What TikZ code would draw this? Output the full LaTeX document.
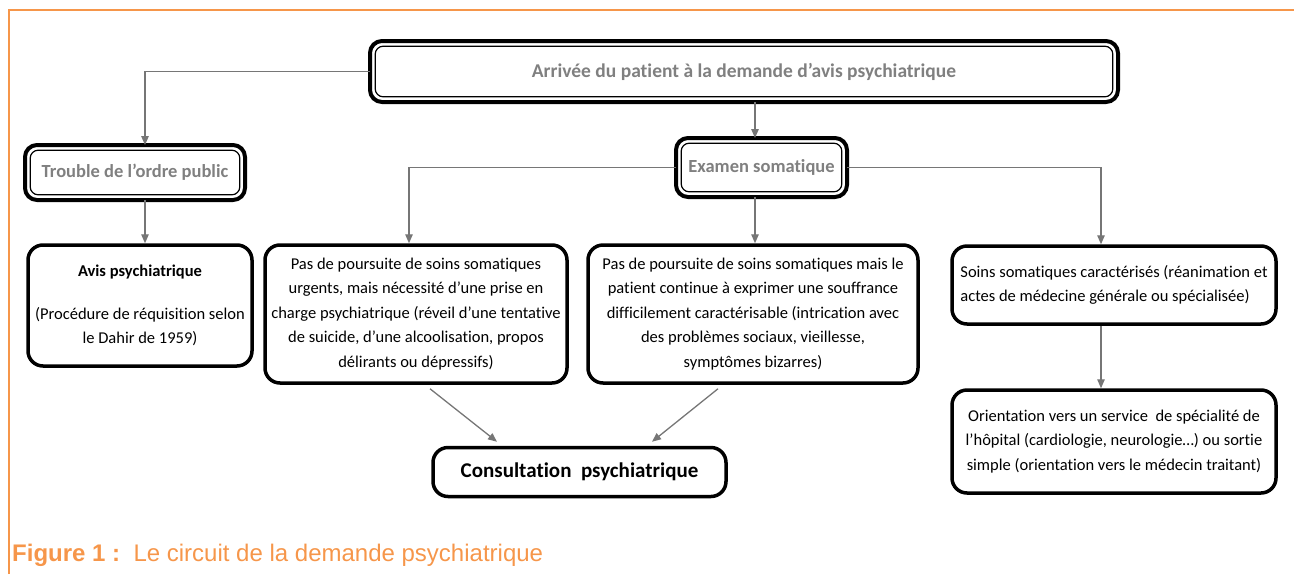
\documentclass[tikz,border=0pt]{standalone}
\usepackage{fontspec}
\setmainfont{Carlito}[Ligatures=NoCommon]
\newfontfamily\capfont{Liberation Sans}
\usetikzlibrary{arrows.meta}
\definecolor{orangeF}{RGB}{246,150,74}
\definecolor{titlegray}{RGB}{128,128,128}
\definecolor{conngray}{RGB}{118,118,118}
\newcommand\innerframe[2]{\draw[line width=1.2pt, rounded corners=#2] ([shift={(5.2,5.2)}]#1.north west) rectangle ([shift={(-5.2,-5.2)}]#1.south east);}
\begin{document}
\begin{tikzpicture}[x=1pt,y=-1pt,
  box/.style={draw=black, line width=3.5pt, rounded corners=15pt, fill=white, inner sep=0pt, align=center,
    font=\fontsize{16.5}{24.5}\selectfont},
  dbox/.style={draw=black, line width=4pt, outer sep=0pt, rounded corners=12pt, fill=white, inner sep=0pt,
    font=\bfseries\fontsize{18.5}{20}\selectfont, text=titlegray},
  conn/.style={draw=conngray, line width=1.3pt, -{Triangle[length=9pt,width=7.5pt]}}]
\useasboundingbox (0,0) rectangle (1294,574);
% orange frame
\draw[orangeF, line width=1.6pt] (9,574) -- (9,10) -- (1294,10);

% boxes
\node[dbox, minimum width=748pt, minimum height=61pt, font=\bfseries\fontsize{19.5}{20}\selectfont] (top) at (744,71.5) {Arrivée du patient à la demande d’avis psychiatrique};
\innerframe{top}{8pt}
\node[dbox, minimum width=220pt, minimum height=55pt] (trouble) at (135,172.5) {Trouble de l’ordre public};
\innerframe{trouble}{8pt}
\node[dbox, minimum width=171pt, minimum height=59pt] (exam) at (761.5,167.5) {Examen somatique};
\innerframe{exam}{8pt}

\node[box, minimum width=224pt, minimum height=121pt] (avis) at (140,305.5)
  {\textbf{Avis psychiatrique}\\[18.5pt](Procédure de réquisition selon\\le Dahir de 1959)};
\node[box, minimum width=302pt, minimum height=138pt] (b2) at (416,314)
  {Pas de poursuite de soins somatiques\\urgents, mais nécessité d’une prise en\\charge psychiatrique (réveil d’une tentative\\de suicide, d’une alcoolisation, propos\\délirants ou dépressifs)};
\node[box, minimum width=330pt, minimum height=138pt] (b3) at (753,314)
  {Pas de poursuite de soins somatiques mais le\\patient continue à exprimer une souffrance\\difficilement caractérisable (intrication avec\\des problèmes sociaux, vieillesse,\\symptômes bizarres)};
\node[box, align=left, minimum width=324pt, minimum height=78pt] (b4) at (1114,285)
  {Soins somatiques caractérisés (réanimation et\\actes de médecine générale ou spécialisée)};
\node[box, minimum width=324pt, minimum height=103pt] (b5) at (1114,441.5)
  {Orientation vers un service\ \ de spécialité de\\l’hôpital (cardiologie, neurologie…) ou sortie\\simple (orientation vers le médecin traitant)};
\node[box, minimum width=293pt, minimum height=49pt, font=\bfseries\fontsize{21}{22}\selectfont] (cons) at (579.5,472)
  {Consultation\ \ psychiatrique};

% connectors
\draw[conn] (top.west) -| ([xshift=10pt]trouble.north);
\draw[conn] ([xshift=11pt]top.south) -- ([xshift=11pt]top.south |- exam.north);
\draw[conn] ([xshift=10pt]trouble.south) -- ([xshift=10pt]trouble.south |- avis.north);
\draw[conn] (exam.west) -| ([xshift=-7pt]b2.north);
\draw[conn] ([xshift=-6.5pt]exam.south) -- ([xshift=-6.5pt]exam.south |- b3.north);
\draw[conn] (exam.east) -| ([xshift=-13pt]b4.north);
\draw[conn] ([xshift=-13pt]b4.south) -- ([xshift=-13pt]b4.south |- b5.north);
\draw[conn] ([xshift=14pt,yshift=-4pt]b2.south) -- ([xshift=-82.5pt,yshift=4pt]cons.north);
\draw[conn] ([xshift=-35pt,yshift=-4pt]b3.south) -- ([xshift=72.5pt,yshift=4pt]cons.north);

% caption
\node[anchor=base west, inner sep=0pt, text=orangeF, font=\capfont\fontsize{24}{26}\selectfont] (cap) at (12,561)
  {\textbf{Figure 1 :}\ \ Le circuit de la demande psychiatrique};
\end{tikzpicture}
\end{document}
